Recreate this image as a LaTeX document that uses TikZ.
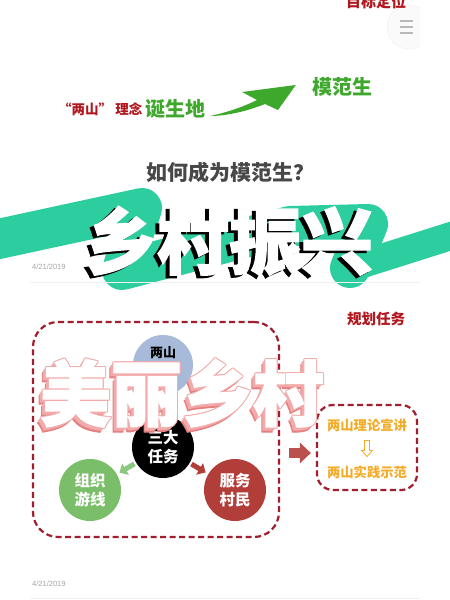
\documentclass[tikz,border=0pt]{standalone}
\usepackage{fontspec}
\setmainfont{Noto Sans CJK SC}
\newfontfamily\heavy{Noto Sans CJK SC}[BoldFeatures={FakeBold=1.6}]
\newfontfamily\datefont{Liberation Sans}
\usetikzlibrary{arrows.meta,calc,positioning}
\definecolor{band}{RGB}{44,205,158}
\definecolor{darkred}{RGB}{178,22,30}
\definecolor{dashred}{RGB}{160,30,45}
\definecolor{leaf}{RGB}{62,168,44}
\definecolor{gold}{RGB}{244,172,40}
\definecolor{hillblue}{RGB}{168,186,218}
\definecolor{tourgreen}{RGB}{122,190,106}
\definecolor{servered}{RGB}{178,62,58}
\definecolor{blush}{RGB}{242,170,170}
\definecolor{blushdeep}{RGB}{228,128,128}

\tikzset{
  lbl/.style={inner sep=0pt, font=\bfseries\fontsize{#1}{#1}\selectfont},
  heading/.style={inner sep=0pt, font=\heavy\bfseries\fontsize{72}{72}\selectfont},
  beauty/.style={inner sep=0pt, font=\heavy\bfseries\fontsize{71}{71}\selectfont},
  taskdisk/.style={circle, inner sep=0pt, minimum size=62, text=white, align=center,
    font=\bfseries\fontsize{15.5}{19}\selectfont},
  dashbox/.style={draw=dashred, line width=2.2, dash pattern=on 6pt off 3.5pt, inner sep=0pt},
  smallarrow/.style={line width=5, -{Triangle[length=7,width=13]}, shorten <=2, shorten >=3},
  datestamp/.style={inner sep=0pt, anchor=west, text=gray!70, font=\datefont\fontsize{7.5}{8}\selectfont},
}

\begin{document}
\begin{tikzpicture}[x=1pt,y=-1pt]
  \useasboundingbox (0,0) rectangle (450,600);
  \clip (0,0) rectangle (450,600);
  \fill[white] (0,0) rectangle (450,600);

  \begin{scope}
    \clip (0,0) rectangle (420,60);
    \filldraw[fill=gray!4, draw=gray!12] (409,27) circle (22);
  \end{scope}
  \foreach \y in {21,27,33}
    \draw[gray!55, line width=1.2] (400,\y) -- (413,\y);

  \node[lbl=15, text=darkred] (goal) at (376,2) {目标定位};
  \node[lbl=13.5, text=darkred, anchor=west] (idea) at (58,109) {“两山” 理念};
  \node[lbl=20, text=leaf, right=3pt of idea] (birth) {诞生地};
  \node[lbl=20, text=leaf] (model) at (342,87) {模范生};
  \coordinate (tail) at ($(birth.east)+(4,7)$);
  \coordinate (tip) at ($(model.west)+(-16,-2)$);
  \fill[leaf] (tail) .. controls (225,113) and (243,107) .. (257,100) -- (242,92) -- (tip)
    -- (278,110) -- (265,104) .. controls (245,112) and (225,116) .. (tail) -- cycle;

  \node[lbl=21, text=black!72] (howto) at (230,172) {如何成为模范生？};

  \draw[band, line width=40, line join=round, line cap=round]
    (-20,243) -- (142,208) -- (122,270) -- (290,226) -- (368,224) -- (350,268);
  \draw[band, line width=28, line cap=round] (350,268) -- (470,230);

  \node[datestamp] (date) at (32,267) {4/21/2019};
  \draw[gray!12, line width=0.8] (30,282) -- (420,282);

  \node[heading, text=black] (titleshade) at (225,243.5) {乡村振兴};
  \node[heading, text=white] (title) at (229,241) {乡村振兴};

  \node[lbl=14.5, text=darkred] (plan) at (376,319) {规划任务};

  \node[dashbox, rounded corners=25, minimum width=246, minimum height=215] (planbox) at (156,429.5) {};
  \node[dashbox, rounded corners=16, minimum width=100, minimum height=85] (showbox) at (367,447.5) {};

  \node[circle, fill=hillblue, minimum size=60] (hill) at (163,365) {};
  \node[lbl=13, text=black] (hilltext) at (163,353) {两山};
  \node[taskdisk, fill=black] (task) at (163,447) {三大\\任务};
  \node[taskdisk, fill=tourgreen] (tour) at (90,490) {组织\\游线};
  \node[taskdisk, fill=servered] (serve) at (235,490) {服务\\村民};
  \draw[smallarrow, tourgreen!85!white] (task) -- (tour);
  \draw[smallarrow, servered] (task) -- (serve);

  \node[beauty, text=blushdeep] (shadeedge) at (178,398) {美丽乡村};
  \foreach \d in {1,2,3}
    \node[beauty, text=blush] (shade\d) at (182-\d,393+\d) {美丽乡村};
  \foreach \dx/\dy [count=\i] in {-1/0,1/0,0/-1,0/1,-.7/-.7,.7/-.7,-.7/.7,.7/.7}
    \node[beauty, text=blush] (rim\i) at (182+\dx,393+\dy) {美丽乡村};
  \node[beauty, text=white] (beautytitle) at (182,393) {美丽乡村};

  \node[lbl=13.3, text=gold] (talk) at (367,425) {两山理论宣讲};
  \node[lbl=13.3, text=gold] (demo) at (367,472) {两山实践示范};
  \coordinate (mid) at ($(talk.south)!0.5!(demo.north)$);
  \draw[gold, line width=0.8, fill=white, shift={(mid)}]
    (-2.5,-8) -- (2.5,-8) -- (2.5,2) -- (5.5,2) -- (0,8) -- (-5.5,2) -- (-2.5,2) -- cycle;

  \draw[servered!90!white, line width=10, -{Triangle[length=11,width=20]}]
    ($(planbox.east |- showbox.west)+(9,5.5)$) -- ($(showbox.west)+(-5,5.5)$);

  \node[datestamp] (footdate) at (32,584) {4/21/2019};
  \draw[gray!12, line width=0.8] (30,598) -- (420,598);
\end{tikzpicture}
\end{document}
